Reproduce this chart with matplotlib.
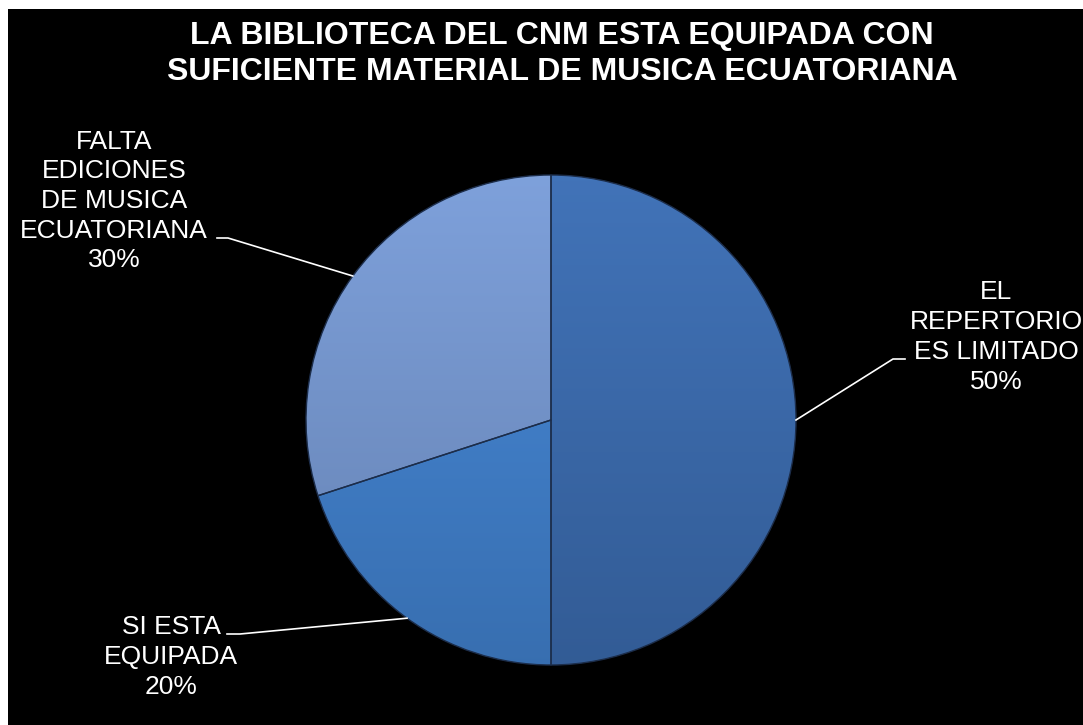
import numpy as np
import matplotlib
matplotlib.use("Agg")
import matplotlib.pyplot as plt
from matplotlib.patches import Rectangle
from matplotlib.colors import to_rgb

plt.rcParams['font.family'] = ['Liberation Sans', 'DejaVu Sans']

title = "LA BIBLIOTECA DEL CNM ESTA EQUIPADA CON\nSUFICIENTE MATERIAL DE MUSICA ECUATORIANA"
categories = ["EL\nREPERTORIO\nES LIMITADO", "SI ESTA\nEQUIPADA", "FALTA\nEDICIONES\nDE MUSICA\nECUATORIANA"]
values = [50, 20, 30]
colors = ["#3866a6", "#3e7bc4", "#7090c6"]

W, H = 1083, 725
fig = plt.figure(figsize=(W / 100, H / 100), dpi=100, facecolor="white")
ax = fig.add_axes([0, 0, 1, 1])

# black chart area
ax.add_patch(Rectangle((8, 0), W - 8, H - 9, facecolor="black", edgecolor="none", zorder=0))

cx, cy, r = 551, H - 420, 245
wedges, _ = ax.pie(values, colors=colors, startangle=90, counterclock=False,
                   center=(cx, cy), radius=r, frame=True,
                   wedgeprops=dict(edgecolor="#1c2d4a", linewidth=1.0))
ax.set_xlim(0, W)
ax.set_ylim(0, H)
ax.set_aspect("equal")
ax.axis("off")

# gentle vertical gradient shading inside each wedge
for w, c in zip(wedges, colors):
    base = np.array(to_rgb(c))
    n = 256
    t = np.linspace(0, 1, n)[:, None]
    light = np.clip(base * 1.08 + 0.02, 0, 1)
    dark = np.clip(base * 0.9, 0, 1)
    grad = light[None, :] * (1 - t) + dark[None, :] * t
    img = np.repeat(grad[:, None, :], 2, axis=1)
    im = ax.imshow(img, extent=(cx - r, cx + r, cy - r, cy + r), origin="upper",
                   aspect="auto", zorder=w.get_zorder() + 0.1, interpolation="bilinear")
    im.set_clip_path(w)
    w.set_zorder(w.get_zorder() + 0.2)
    w.set_facecolor("none")

ax.set_xlim(0, W)
ax.set_ylim(0, H)

# labels with leader lines
label_pos = [(996, H - 337), (171, H - 657), (114, H - 201)]
elbows = [((893, H - 359), (905, H - 359)),
          ((240, H - 634), (227, H - 634)),
          ((228, H - 238), (217, H - 238))]
for w, lab, v, (lx, ly), (e1, e2) in zip(wedges, categories, values, label_pos, elbows):
    ang = np.deg2rad((w.theta1 + w.theta2) / 2)
    sx, sy = cx + r * np.cos(ang), cy + r * np.sin(ang)
    ax.plot([sx, e1[0], e2[0]], [sy, e1[1], e2[1]], color="white", lw=1.2, zorder=5)
    ax.text(lx, ly, f"{lab}\n{v}%", color="white", fontsize=19, ha="center", va="center",
            linespacing=1.3, zorder=6)

ax.text(562, H - 54, title, color="white", fontsize=23, fontweight="bold",
        ha="center", va="center", linespacing=1.3, zorder=6)

fig.savefig("out.png", dpi=100, facecolor="white")
